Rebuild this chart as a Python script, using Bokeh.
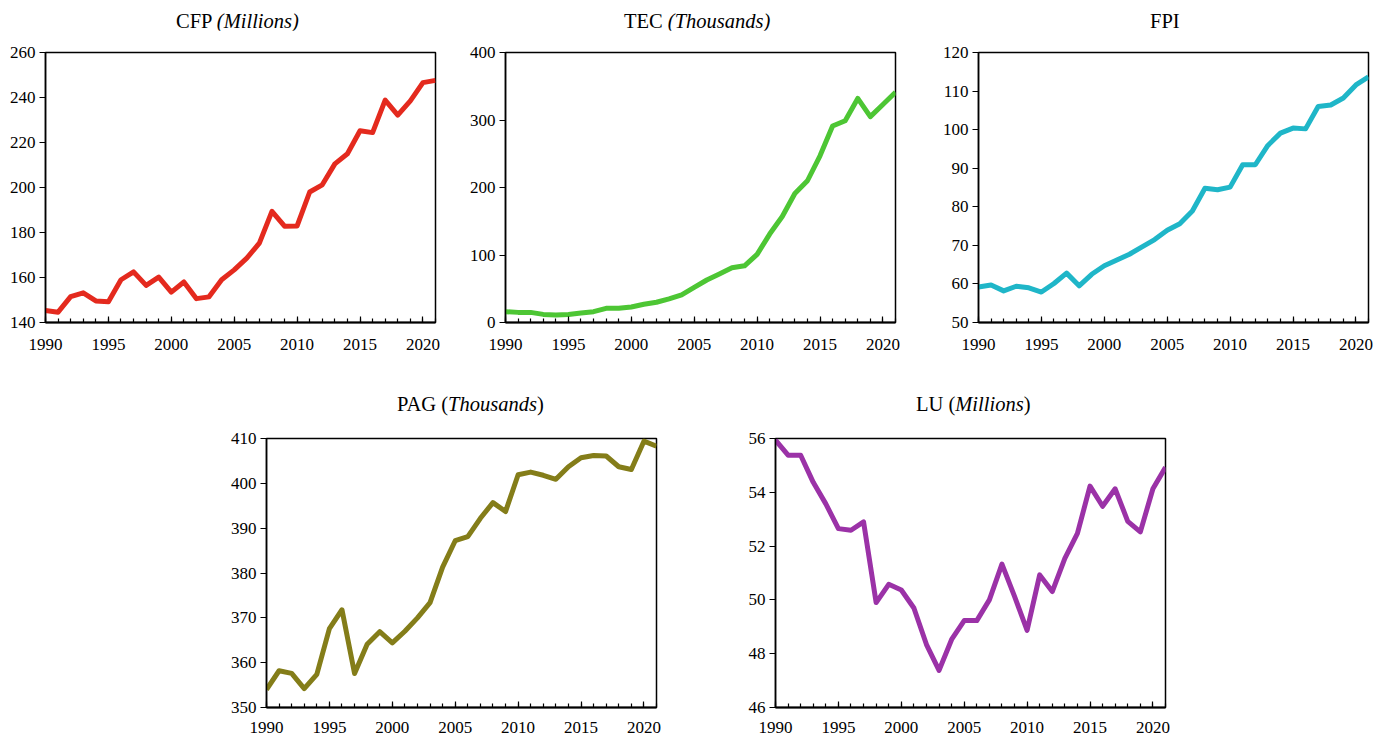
from bokeh.plotting import figure
from bokeh.layouts import row, column, Spacer
from bokeh.models import FixedTicker, Range1d, Div
from bokeh.embed import file_html
from bokeh.resources import INLINE

years = [1990, 1991, 1992, 1993, 1994, 1995, 1996, 1997, 1998, 1999,
         2000, 2001, 2002, 2003, 2004, 2005, 2006, 2007, 2008, 2009,
         2010, 2011, 2012, 2013, 2014, 2015, 2016, 2017, 2018, 2019,
         2020, 2021]
year_ticks = [1990, 1995, 2000, 2005, 2010, 2015, 2020]

cfp = [145.3, 144.6, 151.5, 153.2, 149.6, 149.2, 159.0, 162.5, 156.5, 160.2,
       153.5, 158.0, 150.6, 151.4, 159.0, 163.4, 168.6, 175.3, 189.4, 182.8,
       182.9, 198.0, 201.2, 210.5, 215.0, 225.2, 224.4, 238.8, 232.2, 238.5,
       246.6, 247.6]
tec = [16, 15, 15, 12, 11, 12, 14, 16, 21, 21,
       23, 27, 30, 35, 41, 52, 63, 72, 81, 84,
       101, 131, 157, 191, 210, 247, 291, 299, 332, 305,
       323, 341]
fpi = [59.2, 59.7, 58.2, 59.4, 59.0, 57.9, 60.1, 62.8, 59.5, 62.5,
       64.7, 66.2, 67.7, 69.6, 71.5, 73.9, 75.6, 78.9, 84.8, 84.4,
       85.1, 90.9, 90.9, 95.9, 99.1, 100.4, 100.2, 106.0, 106.4, 108.2,
       111.6, 113.7]
pag = [354.0, 358.2, 357.6, 354.2, 357.4, 367.6, 371.8, 357.6, 364.1, 366.9,
       364.4, 367.0, 370.0, 373.4, 381.3, 387.2, 388.1, 392.2, 395.7, 393.7,
       401.9, 402.5, 401.8, 400.9, 403.7, 405.7, 406.2, 406.1, 403.7, 403.1,
       409.4, 408.3]
lu = [55.94, 55.38, 55.38, 54.37, 53.57, 52.65, 52.59, 52.90, 49.90, 50.58,
      50.37, 49.70, 48.34, 47.38, 48.53, 49.23, 49.23, 50.00, 51.33, 50.13,
      48.87, 50.93, 50.31, 51.54, 52.47, 54.23, 53.48, 54.13, 52.92, 52.53,
      54.13, 54.93]

cfp_ticks = [140, 160, 180, 200, 220, 240, 260]
tec_ticks = [0, 100, 200, 300, 400]
fpi_ticks = [50, 60, 70, 80, 90, 100, 110, 120]
pag_ticks = [350, 360, 370, 380, 390, 400, 410]
lu_ticks = [46, 48, 50, 52, 54, 56]

FONT = "Liberation Serif"


def make(values, color, yticks, bl, br, bt, bb, fh, standoff):
    p = figure(frame_width=390, frame_height=fh,
               x_range=Range1d(years[0], years[-1]),
               y_range=Range1d(yticks[0], yticks[-1]),
               output_backend="svg", toolbar_location=None,
               min_border_left=bl, min_border_right=br,
               min_border_top=bt, min_border_bottom=bb,
               background_fill_color="white", border_fill_color="white")
    p.line(years, values, line_color=color, line_width=5, line_join="round")
    p.grid.visible = False
    p.outline_line_color = "black"
    p.outline_line_width = 1.5
    p.outline_line_alpha = 1

    xa = p.xaxis[0]
    xa.ticker = FixedTicker(ticks=year_ticks, minor_ticks=years)
    xa.major_tick_in = 6
    xa.major_tick_out = 0
    xa.minor_tick_in = 4
    xa.minor_tick_out = 0
    xa.major_label_standoff = standoff
    xa.axis_line_width = 2
    xa.minor_tick_line_color = "black"
    xa.minor_tick_line_width = 1.2

    ya = p.yaxis[0]
    ya.ticker = FixedTicker(ticks=yticks)
    ya.major_tick_in = 0
    ya.major_tick_out = 6
    ya.minor_tick_line_color = None
    ya.major_label_standoff = 4
    ya.axis_line_width = 1.5

    for ax in (xa, ya):
        ax.axis_line_color = "black"
        ax.major_tick_line_color = "black"
        ax.major_tick_line_width = 1.2
        ax.major_label_text_font = FONT
        ax.major_label_text_font_size = "17px"
        ax.major_label_text_color = "black"
    return p


def title_div(html, width, height, left, top):
    style = ("padding-left:%dpx;padding-top:%dpx;white-space:nowrap;"
             "font-family:'Liberation Serif';font-size:20.5px;line-height:20px;"
             "color:#000;" % (left, top))
    return Div(text='<div style="%s">%s</div>' % (style, html),
               width=width, height=height, margin=0)


# top row: frame top at 52, frame 270 tall
p1 = make(cfp, "#E42A1E", cfp_ticks, 45, 27, 22, 36, 270, 16)
p2 = make(tec, "#4DC634", tec_ticks, 43, 22, 22, 36, 270, 16)
p3 = make(fpi, "#1FB6C8", fpi_ticks, 61, 11, 22, 36, 270, 16)
# bottom row: frame top at 438
p4 = make(pag, "#847D19", pag_ticks, 58, 60, 20, 20, 269, 14)
p5 = make(lu, "#9B32A7", lu_ticks, 59, 15, 20, 20, 269, 14)

t1 = title_div("CFP <i>(Millions)</i>", 462, 30, 176, 11)
t2 = title_div("TEC <i>(Thousands)</i>", 455, 30, 162, 11)
t3 = title_div("FPI", 462, 30, 233, 11)
t4 = title_div("PAG (<i>Thousands</i>)", 508, 60, 189, 36)
t5 = title_div("LU (<i>Millions</i>)", 464, 60, 200, 36)

top = row(column(t1, p1), column(t2, p2), column(t3, p3))
bottom = row(Spacer(width=208, height=10), column(t4, p4), column(t5, p5))
layout = column(top, bottom)

open("out.html", "w").write(file_html(layout, INLINE))
